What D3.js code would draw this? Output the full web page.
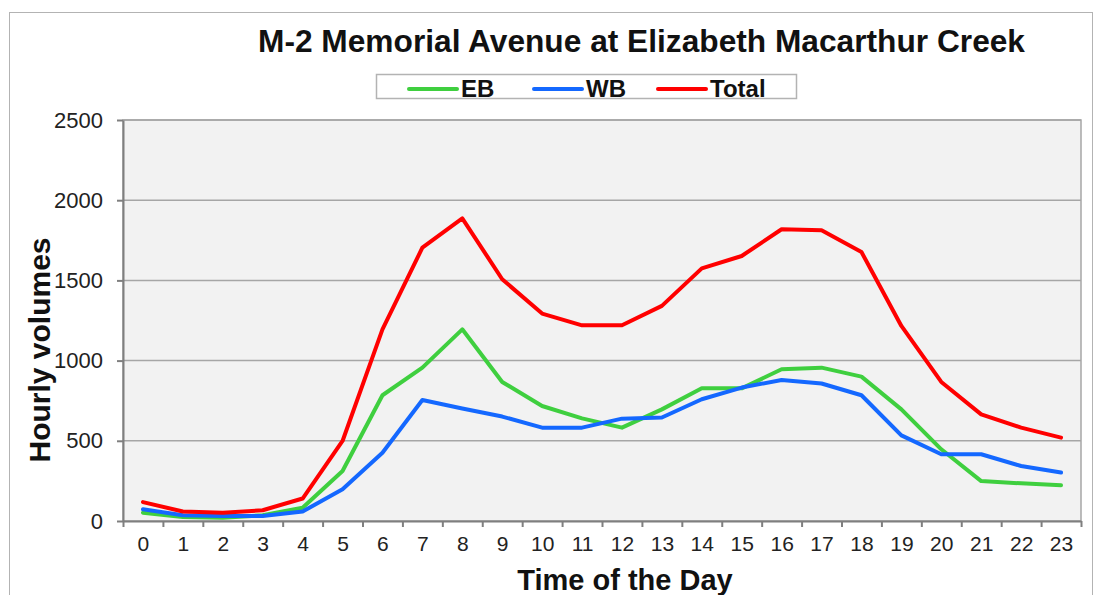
<!DOCTYPE html>
<html>
<head>
<meta charset="utf-8">
<script src="https://cdn.jsdelivr.net/npm/d3@7"></script>
<style>
  body { margin: 0; background: #fff; }
  svg { display: block; font-family: "Liberation Sans", Arial, sans-serif; }
  .grid line { stroke: #a6a6a6; stroke-width: 1.5; }
  .axis path, .axis line { stroke: #7f7f7f; stroke-width: 2; }
  .axis text { fill: #222; font-size: 21px; }
</style>
</head>
<body>
<div id="chart"></div>
<script>
// Hours of the day and hourly volumes
var hours = d3.range(0, 24);
var ebValues = [52, 25, 21, 36, 83, 312, 784, 956, 1195, 867, 717, 640, 582, 696, 827, 827, 946, 956, 900, 696, 447, 249, 235, 223];
var wbValues = [73, 36, 31, 31, 59, 198, 426, 754, 701, 651, 582, 582, 638, 645, 759, 832, 879, 857, 784, 534, 416, 416, 343, 302];
var totalValues = [118, 59, 52, 67, 140, 499, 1195, 1704, 1887, 1507, 1293, 1220, 1220, 1341, 1575, 1652, 1819, 1812, 1677, 1216, 867, 665, 582, 520];
var yTicks = [0, 500, 1000, 1500, 2000, 2500];

var seriesNames = ["EB", "WB", "Total"];
var seriesColors = ["#3fcf3f", "#1468ff", "#ff0000"];

var svgWidth = 1094;
var svgHeight = 595;

// plot area
var plot = { left: 123, right: 1081, top: 120, bottom: 521 };

var svg = d3.select("#chart")
  .append("svg")
  .attr("width", svgWidth)
  .attr("height", svgHeight);

// outer chart frame
svg.append("rect")
  .attr("x", 9.5)
  .attr("y", 12.5)
  .attr("width", 1083)
  .attr("height", 620)
  .attr("fill", "#fff")
  .attr("stroke", "#b3b3b3")
  .attr("stroke-width", 1);

var xScale = d3.scaleLinear()
  .domain([-0.5, 23.5])
  .range([plot.left, plot.right]);

var yScale = d3.scaleLinear()
  .domain([0, 2500])
  .range([plot.bottom, plot.top]);

// plot background
svg.append("rect")
  .attr("x", plot.left)
  .attr("y", plot.top)
  .attr("width", plot.right - plot.left)
  .attr("height", plot.bottom - plot.top)
  .attr("fill", "#f2f2f2")
  .attr("stroke", "#a6a6a6")
  .attr("stroke-width", 1.5);

// horizontal gridlines
svg.append("g")
  .attr("class", "grid")
  .selectAll("line")
  .data(yTicks.slice(1))
  .enter()
  .append("line")
  .attr("x1", plot.left)
  .attr("x2", plot.right)
  .attr("y1", d => yScale(d))
  .attr("y2", d => yScale(d));

// y axis
var leftAxis = d3.axisLeft(yScale)
  .tickValues(yTicks)
  .tickFormat(d3.format("d"))
  .tickSize(6)
  .tickPadding(14)
  .tickSizeOuter(0);

svg.append("g")
  .attr("class", "axis")
  .attr("transform", `translate(${plot.left}, 0)`)
  .call(leftAxis)
  .selectAll("text")
  .style("font-size", "22px");

// x axis: ticks between categories, labels at category centres
var tickAxis = d3.axisBottom(xScale)
  .tickValues(d3.range(-0.5, 24, 1))
  .tickFormat("")
  .tickSize(6)
  .tickSizeOuter(0);

svg.append("g")
  .attr("class", "axis")
  .attr("transform", `translate(0, ${plot.bottom})`)
  .call(tickAxis);

var labelAxis = d3.axisBottom(xScale)
  .tickValues(hours)
  .tickFormat(d3.format("d"))
  .tickSize(0)
  .tickPadding(15);

var labelGroup = svg.append("g")
  .attr("class", "axis")
  .attr("transform", `translate(0, ${plot.bottom})`)
  .call(labelAxis);
labelGroup.select(".domain").remove();

// lines
var line = d3.line()
  .x((d, i) => xScale(hours[i]))
  .y(d => yScale(d));

var allSeries = [ebValues, wbValues, totalValues];
svg.append("g")
  .selectAll("path")
  .data(allSeries)
  .enter()
  .append("path")
  .attr("d", d => line(d))
  .attr("fill", "none")
  .attr("stroke", (d, i) => seriesColors[i])
  .attr("stroke-width", 4)
  .attr("stroke-linejoin", "round")
  .attr("stroke-linecap", "round");

// title
svg.append("text")
  .attr("x", 258)
  .attr("y", 52)
  .attr("textLength", 767)
  .attr("lengthAdjust", "spacingAndGlyphs")
  .attr("font-size", "31px")
  .attr("font-weight", "bold")
  .attr("fill", "#111")
  .text("M-2 Memorial Avenue at Elizabeth Macarthur Creek");

// legend
var legend = svg.append("g");
legend.append("rect")
  .attr("x", 376.5)
  .attr("y", 74.5)
  .attr("width", 420)
  .attr("height", 24)
  .attr("fill", "#fff")
  .attr("stroke", "#b3b3b3")
  .attr("stroke-width", 1.5);

var legendX = [409, 534, 658];
var legendItem = legend.selectAll(".item")
  .data(seriesNames)
  .enter()
  .append("g")
  .attr("transform", (d, i) => `translate(${legendX[i]}, 89)`);

legendItem.append("line")
  .attr("x1", 0)
  .attr("x2", 48)
  .attr("stroke", (d, i) => seriesColors[i])
  .attr("stroke-width", 4)
  .attr("stroke-linecap", "round");

legendItem.append("text")
  .attr("x", 52)
  .attr("y", 8)
  .attr("font-size", "24px")
  .attr("font-weight", "bold")
  .attr("fill", "#111")
  .text(d => d);

// axis titles
svg.append("text")
  .attr("transform", "translate(50, 350) rotate(-90)")
  .attr("text-anchor", "middle")
  .attr("font-size", "30px")
  .attr("font-weight", "bold")
  .attr("fill", "#111")
  .text("Hourly volumes");

svg.append("text")
  .attr("x", 625)
  .attr("y", 590)
  .attr("text-anchor", "middle")
  .attr("font-size", "29px")
  .attr("font-weight", "bold")
  .attr("fill", "#111")
  .text("Time of the Day");
</script>
</body>
</html>
